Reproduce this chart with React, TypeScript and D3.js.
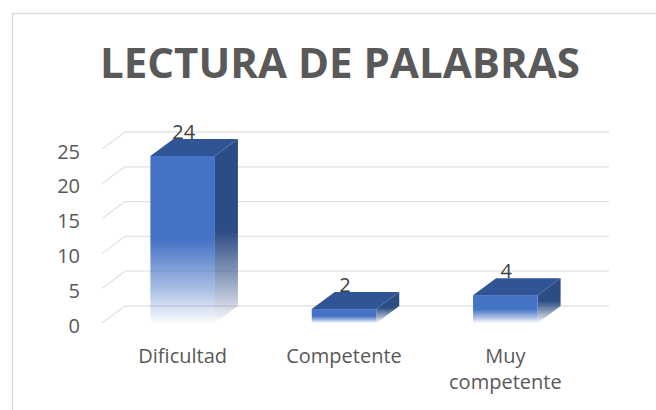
import React, { useEffect, useRef } from "react";
import * as d3 from "d3";

// chart data
const categories = ["Dificultad", "Competente", "Muy competente"];
const categoryLines = [["Dificultad"], ["Competente"], ["Muy", "competente"]];
const values = [24, 2, 4];
const yTicks = [0, 5, 10, 15, 20, 25];
const title = "LECTURA DE PALABRAS";

export default function App() {
  const ref = useRef<SVGSVGElement | null>(null);

  useEffect(() => {
    document.body.style.margin = "0";
    const svg = d3.select(ref.current);
    svg.selectAll("*").remove();

    const depthX = 23;
    const depthY = -17;
    const font = "'Open Sans', 'DejaVu Sans', sans-serif";
    const textColor = "#595959";

    // chart frame (only top and left edges are in view)
    svg.append("rect")
      .attr("x", 12.5)
      .attr("y", 13.5)
      .attr("width", 700)
      .attr("height", 500)
      .attr("fill", "#fff")
      .attr("stroke", "#d9d9d9")
      .attr("stroke-width", 1.3);

    // scales (front plane)
    const xScale = d3.scaleBand<string>()
      .domain(categories)
      .range([102, 609 - depthX])
      .paddingInner(0)
      .paddingOuter(0);

    const yScale = d3.scaleLinear()
      .domain([0, 25])
      .range([323, 149]);

    const defs = svg.append("defs");
    const makeGrad = (id: string, color: string) => {
      const g = defs.append("linearGradient")
        .attr("id", id)
        .attr("x1", 0).attr("y1", 0).attr("x2", 0).attr("y2", 1);
      g.append("stop").attr("offset", "0%").attr("stop-color", color).attr("stop-opacity", 1);
      g.append("stop").attr("offset", "50%").attr("stop-color", color).attr("stop-opacity", 1);
      g.append("stop").attr("offset", "80%").attr("stop-color", color).attr("stop-opacity", 0.45);
      g.append("stop").attr("offset", "100%").attr("stop-color", color).attr("stop-opacity", 0.02);
    };
    makeGrad("frontGrad", "#4472c4");
    makeGrad("sideGrad", "#2c4c84");

    // gridlines: back wall + floor diagonals
    const grid = svg.append("g");
    yTicks.forEach(t => {
      const y = yScale(t);
      grid.append("line")
        .attr("x1", xScale.range()[0]).attr("y1", y)
        .attr("x2", xScale.range()[0] + depthX).attr("y2", y + depthY)
        .attr("stroke", "#e3e3e3").attr("stroke-width", 1.3);
      grid.append("line")
        .attr("x1", xScale.range()[0] + depthX).attr("y1", y + depthY)
        .attr("x2", 609).attr("y2", y + depthY)
        .attr("stroke", "#e3e3e3").attr("stroke-width", 1.3);
    });

    // y-axis labels
    svg.append("g").selectAll("text")
      .data(yTicks)
      .enter()
      .append("text")
      .attr("x", 80)
      .attr("y", d => yScale(d) + 2)
      .attr("text-anchor", "end")
      .attr("dominant-baseline", "central")
      .attr("font-family", font)
      .attr("font-size", 20)
      .attr("fill", textColor)
      .text(d => d);

    // bars
    const barW = xScale.bandwidth() * 0.4;
    const bars = svg.append("g");
    categories.forEach((c, i) => {
      const x0 = (xScale(c) as number) + (xScale.bandwidth() - barW) / 2;
      const x1 = x0 + barW;
      const y0 = yScale(0);
      const yTop = yScale(values[i]);

      // side face
      bars.append("path")
        .attr("d", `M${x1},${yTop} L${x1 + depthX},${yTop + depthY} L${x1 + depthX},${y0 + depthY} L${x1},${y0} Z`)
        .attr("fill", "url(#sideGrad)");
      // front face
      bars.append("rect")
        .attr("x", x0)
        .attr("y", yTop)
        .attr("width", barW)
        .attr("height", y0 - yTop)
        .attr("fill", "url(#frontGrad)");
      // top face
      bars.append("path")
        .attr("d", `M${x0},${yTop} L${x0 + depthX},${yTop + depthY} L${x1 + depthX},${yTop + depthY} L${x1},${yTop} Z`)
        .attr("fill", "#2f5597");

      // value label
      bars.append("text")
        .attr("x", x0 + barW / 2 + 1)
        .attr("y", yTop + depthY)
        .attr("text-anchor", "middle")
        .attr("font-family", font)
        .attr("font-size", 20)
        .attr("fill", "#404040")
        .text(values[i]);
    });

    // category labels
    const xLab = svg.append("g");
    categories.forEach((c, i) => {
      const cx = (xScale(c) as number) + xScale.bandwidth() / 2;
      categoryLines[i].forEach((line, j) => {
        xLab.append("text")
          .attr("x", cx)
          .attr("y", 355 + j * 26)
          .attr("text-anchor", "middle")
          .attr("dominant-baseline", "central")
          .attr("font-family", font)
          .attr("font-size", 20)
          .attr("fill", textColor)
          .text(line);
      });
    });

    // title
    svg.append("text")
      .attr("x", 340)
      .attr("y", 78)
      .attr("text-anchor", "middle")
      .attr("font-family", font)
      .attr("font-weight", "bold")
      .attr("font-size", 41)
      .attr("textLength", 480)
      .attr("lengthAdjust", "spacingAndGlyphs")
      .attr("fill", textColor)
      .text(title);
  }, []);

  return (
    <svg ref={ref} width={656} height={410} style={{ display: "block" }}></svg>
  );
}
